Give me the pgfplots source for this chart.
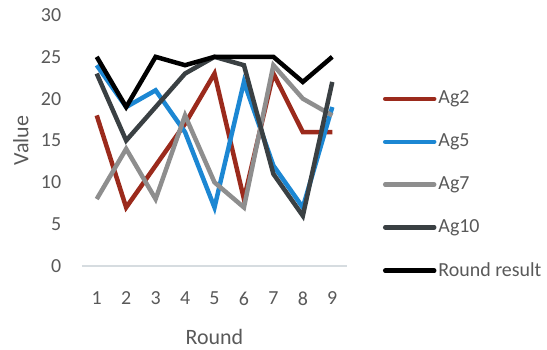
\documentclass[border=0pt]{standalone}
\usepackage{fontspec}
\setmainfont{Carlito}
\usepackage{pgfplots}
\pgfplotsset{compat=1.18}

\definecolor{agtwo}{HTML}{9B2A1C}
\definecolor{agfive}{HTML}{1C87D3}
\definecolor{agseven}{HTML}{8E8E8E}
\definecolor{agten}{HTML}{3A4043}
\definecolor{txt}{HTML}{595959}
\definecolor{baselinegray}{HTML}{D6DCE0}

\begin{document}
\fontsize{20}{24}\selectfont
\begin{tikzpicture}
\path[use as bounding box] (-82bp,-84bp) rectangle (465bp,266bp);
\begin{axis}[
  scale only axis,
  width=265bp, height=251bp,
  xmin=0.5, xmax=9.5,
  ymin=0, ymax=30,
  xtick={1,...,9},
  ytick={0,5,...,30},
  axis line style={draw=none},
  tick style={draw=none},
  major tick length=0pt,
  ticklabel style={font=\fontsize{20}{24}\selectfont, text=txt},
  /pgf/number format/assume math mode=true,
  yticklabel style={xshift=-14bp},
  xticklabel style={yshift=-19bp},
  xlabel={Round},
  ylabel={Value},
  label style={font=\fontsize{22}{26}\selectfont, text=txt},
  xlabel style={yshift=-10bp},
  ylabel style={yshift=-1bp},
  clip=false,
  legend cell align=left,
  legend style={draw=none, fill=none, at={(1.135,0.706)}, anchor=north west,
    font=\fontsize{20}{24}\selectfont, text=txt,
    row sep=23bp, inner sep=0pt,
    /tikz/every even column/.append style={column sep=1bp}},
  legend image code/.code={\draw[#1, line cap=round] (0bp,0bp) -- (49bp,0bp);},
  every axis plot/.append style={line width=4.5bp, line join=miter},
]
% light horizontal baseline at zero
\draw[baselinegray, line width=1.5bp] (axis cs:0.5,0) -- (axis cs:9.5,0);

\addplot[agtwo] coordinates {(1,18) (2,7) (3,12) (4,17) (5,23) (6,8) (7,23) (8,16) (9,16)};
\addlegendentry{Ag2}
\addplot[agfive] coordinates {(1,24) (2,19) (3,21) (4,16) (5,7) (6,22) (7,12) (8,7) (9,19)};
\addlegendentry{Ag5}
\addplot[agseven] coordinates {(1,8) (2,14) (3,8) (4,18) (5,10) (6,7) (7,24) (8,20) (9,18)};
\addlegendentry{Ag7}
\addplot[agten] coordinates {(1,23) (2,15) (3,19) (4,23) (5,25) (6,24) (7,11) (8,6) (9,22)};
\addlegendentry{Ag10}
\addplot[black] coordinates {(1,25) (2,19) (3,25) (4,24) (5,25) (6,25) (7,25) (8,22) (9,25)};
\addlegendentry{Round result}
\end{axis}
\end{tikzpicture}
\end{document}
